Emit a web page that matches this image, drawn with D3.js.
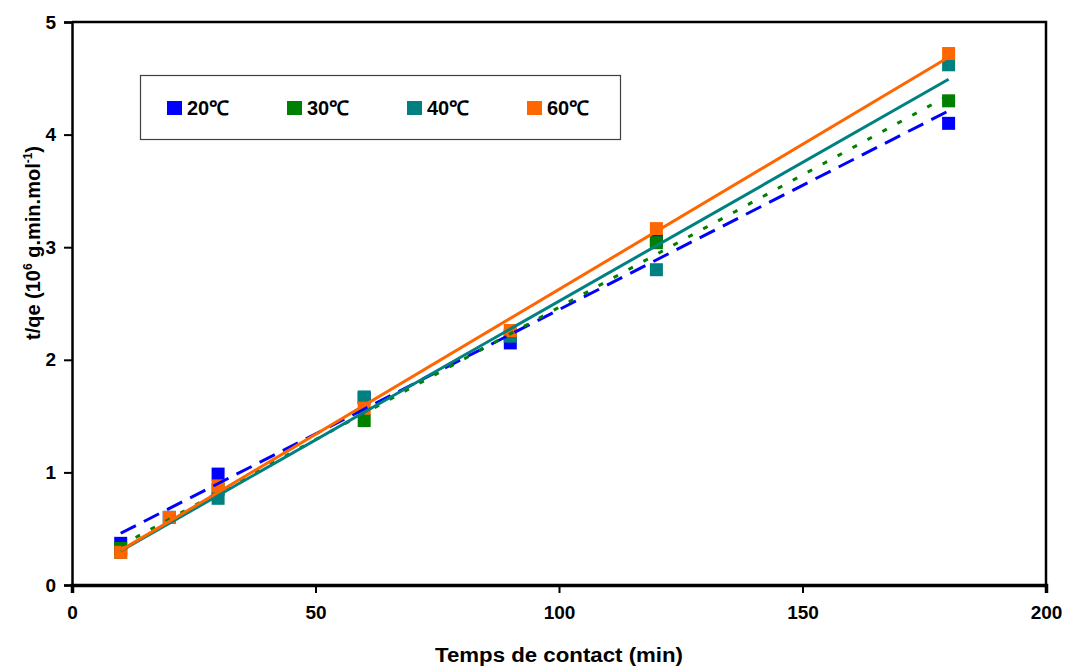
<!DOCTYPE html>
<html>
<head>
<meta charset="utf-8">
<script src="https://cdn.jsdelivr.net/npm/d3@7"></script>
<style>
  html, body { margin: 0; padding: 0; background: #fff; }
  svg text { font-family: "Liberation Sans", Arial, sans-serif; font-weight: bold; fill: #000; }
</style>
</head>
<body>
<svg id="chart" width="1066" height="666"></svg>
<script>
// ---- data ----
const times = [10, 20, 30, 60, 90, 120, 180];
const series20 = [0.37, 0.60, 0.985, 1.66, 2.15, 3.06, 4.10];
const series30 = [0.325, 0.60, 0.85, 1.46, 2.22, 3.04, 4.30];
const series40 = [0.29, 0.60, 0.77, 1.67, 2.21, 2.80, 4.62];
const series60 = [0.29, 0.60, 0.88, 1.57, 2.26, 3.165, 4.72];
const seriesNames = ["20℃", "30℃", "40℃", "60℃"];
const seriesColors = ["#0000FF", "#008000", "#008080", "#FF6600"];
const seriesDash = ["17,9", "5,12", null, null];
const xTicks = [0, 50, 100, 150, 200];
const yTicks = [0, 1, 2, 3, 4, 5];

const allSeries = [series20, series30, series40, series60];

const svg = d3.select("#chart");
const x = d3.scaleLinear().domain([0, 200]).range([72, 1046]);
const y = d3.scaleLinear().domain([0, 5]).range([585, 22]);

// frame (top & right)
svg.append("path")
  .attr("d", `M${x(0)},${y(5)}H${x(200)}V${y(0)}`)
  .attr("fill", "none").attr("stroke", "#000").attr("stroke-width", 2.5);

// axes
const xAxis = svg.append("g").attr("transform", `translate(0,${y(0)})`)
  .call(d3.axisBottom(x).tickValues(xTicks).tickSize(8).tickPadding(13).tickFormat(d3.format("d")));
const yAxis = svg.append("g").attr("transform", `translate(${x(0)},0)`)
  .call(d3.axisLeft(y).tickValues(yTicks).tickSize(8).tickPadding(8).tickFormat(d3.format("d")));
[xAxis, yAxis].forEach(g => {
  g.select(".domain").attr("stroke", "#000");
  g.selectAll(".tick line").attr("stroke", "#000").attr("stroke-width", 2);
  g.selectAll(".tick text").attr("font-size", 19).attr("font-family", "Liberation Sans, Arial, sans-serif").attr("font-weight", "bold");
});
xAxis.select(".domain").attr("stroke-width", 3.5);
yAxis.select(".domain").attr("stroke-width", 2.5);

// markers
allSeries.forEach((s, i) => {
  svg.append("g").selectAll("rect").data(s).join("rect")
    .attr("x", (d, j) => x(times[j]) - 6.5)
    .attr("y", d => y(d) - 6.5)
    .attr("width", 13).attr("height", 13)
    .attr("fill", seriesColors[i]);
});

// linear trendlines (least squares)
function fit(xs, ys) {
  const mx = d3.mean(xs), my = d3.mean(ys);
  let sxy = 0, sxx = 0;
  xs.forEach((v, k) => { sxy += (v - mx) * (ys[k] - my); sxx += (v - mx) * (v - mx); });
  const b = sxy / sxx;
  return { a: my - b * mx, b };
}
allSeries.forEach((s, i) => {
  const f = fit(times, s);
  const ends = [d3.min(times), d3.max(times)];
  svg.append("path")
    .datum(ends)
    .attr("d", d3.line().x(t => x(t)).y(t => y(f.a + f.b * t)))
    .attr("fill", "none")
    .attr("stroke", seriesColors[i])
    .attr("stroke-width", 3)
    .attr("stroke-dasharray", seriesDash[i]);
});

// legend
const lg = svg.append("g");
lg.append("rect").attr("x", 140.5).attr("y", 75.5).attr("width", 480).attr("height", 64)
  .attr("fill", "#fff").attr("stroke", "#404040").attr("stroke-width", 1.2);
seriesNames.forEach((n, i) => {
  const gx = 167 + i * 120;
  lg.append("rect").attr("x", gx).attr("y", 101).attr("width", 15).attr("height", 14).attr("fill", seriesColors[i]);
  lg.append("text").attr("x", gx + 20).attr("y", 115).attr("font-size", 20).text(n);
});

// axis titles
svg.append("text").attr("x", x(100)).attr("y", 662).attr("text-anchor", "middle")
  .attr("font-size", 20).attr("textLength", 248).attr("lengthAdjust", "spacingAndGlyphs")
  .text("Temps de contact (min)");
const yt = svg.append("text").attr("transform", "translate(40,243) rotate(-90)")
  .attr("text-anchor", "middle").attr("font-size", 20);
yt.append("tspan").text("t/qe (10");
yt.append("tspan").attr("font-size", 12).attr("dy", -8).text("6");
yt.append("tspan").attr("dy", 8).text(" g.min.mol");
yt.append("tspan").attr("font-size", 12).attr("dy", -8).text("-1");
yt.append("tspan").attr("dy", 8).text(")");
</script>
</body>
</html>
